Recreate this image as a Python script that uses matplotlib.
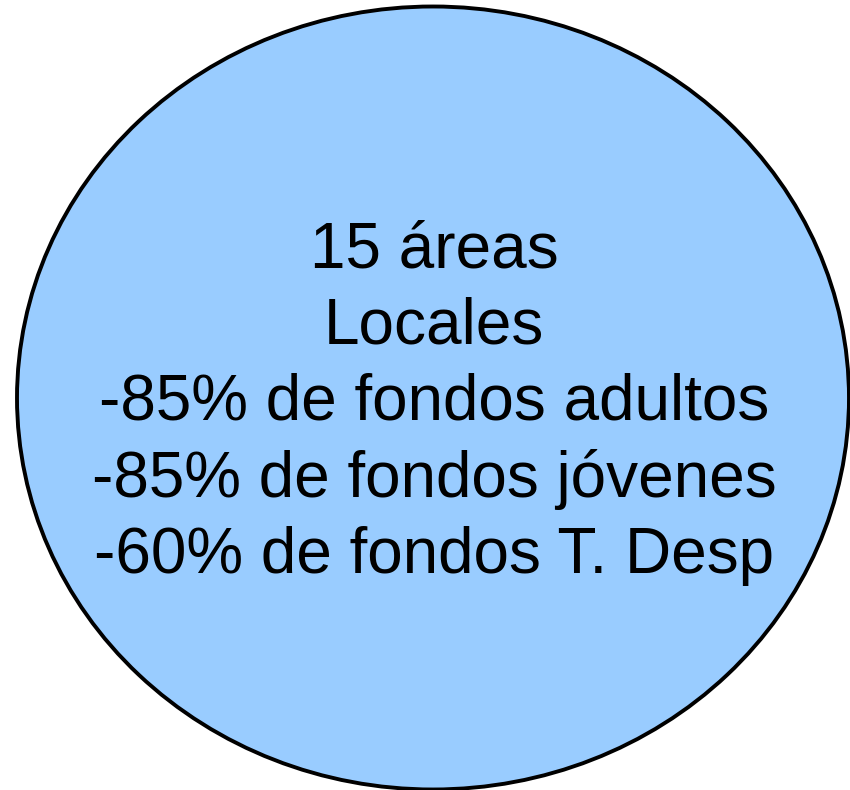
import matplotlib
matplotlib.use("Agg")
import matplotlib.pyplot as plt
from matplotlib.patches import Ellipse

# text lines inside the circle
lines = ["15 áreas", "Locales", "-85% de fondos adultos",
         "-85% de fondos jóvenes", "-60% de fondos T. Desp"]

fig = plt.figure(figsize=(8.5, 7.9), dpi=100)
ax = fig.add_axes([0, 0, 1, 1])
ax.set_xlim(0, 850)
ax.set_ylim(790, 0)
ax.axis("off")

circle = Ellipse((433, 398), 832, 783, facecolor="#99ccff",
                 edgecolor="black", linewidth=2.8)
ax.add_patch(circle)

# one text per line, evenly spaced
y0, step = 250, 76.5
for i, txt in enumerate(lines):
    ax.text(434, y0 + i * step, txt, ha="center", va="center",
            fontsize=46, family="Liberation Sans", color="black")

fig.savefig("out.png", dpi=100)
